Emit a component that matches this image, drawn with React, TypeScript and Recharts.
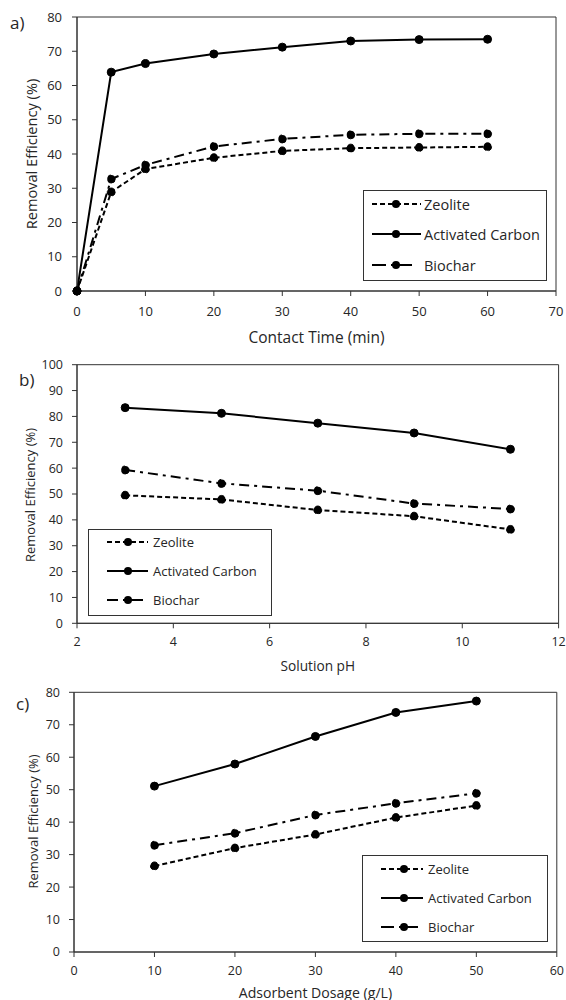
import React from "react";
import { LineChart, Line, XAxis, YAxis, Legend, ReferenceArea } from "recharts";

// a) contact time
const contactTime = [0, 5, 10, 20, 30, 40, 50, 60];
const zeoliteTime = [0, 28.9, 35.6, 38.9, 40.9, 41.7, 41.9, 42.1];
const carbonTime = [0, 63.9, 66.4, 69.2, 71.2, 73.0, 73.4, 73.5];
const biocharTime = [0, 32.7, 36.8, 42.2, 44.4, 45.6, 45.9, 45.9];
const timeTicks = [0, 10, 20, 30, 40, 50, 60, 70];
const timeYTicks = [0, 10, 20, 30, 40, 50, 60, 70, 80];

// b) solution pH
const solutionPh = [3, 5, 7, 9, 11];
const zeolitePh = [49.5, 47.9, 43.8, 41.4, 36.3];
const carbonPh = [83.4, 81.2, 77.4, 73.6, 67.3];
const biocharPh = [59.3, 54.1, 51.3, 46.3, 44.2];
const phTicks = [2, 4, 6, 8, 10, 12];
const phYTicks = [0, 10, 20, 30, 40, 50, 60, 70, 80, 90, 100];

// c) adsorbent dosage
const dosage = [10, 20, 30, 40, 50];
const zeoliteDose = [26.5, 32.0, 36.2, 41.4, 45.1];
const carbonDose = [51.1, 57.9, 66.4, 73.8, 77.3];
const biocharDose = [32.9, 36.6, 42.2, 45.8, 48.9];
const doseTicks = [0, 10, 20, 30, 40, 50, 60];
const doseYTicks = [0, 10, 20, 30, 40, 50, 60, 70, 80];

const seriesNames = ["Zeolite", "Activated Carbon", "Biochar"];
const seriesKeys = ["zeolite", "carbon", "biochar"];
const dashes = ["5 3", "", "10 5 3 5"];

const FONT = "'Open Sans', 'DejaVu Sans', sans-serif";
const INK = "#262626";

const makeRows = (xs: number[], z: number[], c: number[], b: number[]) =>
  xs.map((x, i) => ({ x, zeolite: z[i], carbon: c[i], biochar: b[i] }));

const LegendBox = ({ lg }: any) => (
  <div
    style={{
      position: "relative",
      width: lg.w,
      height: lg.h,
      boxSizing: "border-box",
      border: "1px solid #333",
      background: "#fff",
      fontFamily: FONT,
    }}
  >
    {seriesNames.map((name, i) => {
      const sw = i === 2 ? lg.bioWidth : lg.sampleWidth;
      return (
        <div
          key={name}
          style={{
            position: "absolute",
            left: lg.sampleLeft - 1,
            top: lg.rows[i] - 10 - 1,
            height: 20,
            display: "flex",
            alignItems: "center",
          }}
        >
          <svg width={sw} height={12} style={{ display: "block" }}>
            {i === 2 ? (
              <>
                <line x1={0} x2={lg.dot - 10} y1={6} y2={6} stroke="#000" strokeWidth={2} />
                <line x1={lg.dot - 5} x2={sw} y1={6} y2={6} stroke="#000" strokeWidth={2} />
              </>
            ) : (
              <line
                x1={0}
                x2={sw}
                y1={6}
                y2={6}
                stroke="#000"
                strokeWidth={2}
                strokeDasharray={dashes[i] || undefined}
              />
            )}
            <circle cx={lg.dot} cy={6} r={4} fill="#000" />
          </svg>
          <span
            style={{
              fontSize: lg.font,
              color: INK,
              marginLeft: lg.textLeft - lg.sampleLeft - sw,
              whiteSpace: "nowrap",
            }}
          >
            {name}
          </span>
        </div>
      );
    })}
  </div>
);

const Panel = ({ p }: any) => {
  const h = p.height;
  return (
    <div style={{ position: "absolute", left: 0, top: p.top, width: 566, height: h }}>
      <LineChart
        width={566}
        height={h}
        data={p.rows}
        margin={{ top: p.plotTop, right: 566 - p.plotRight, left: 0, bottom: 0 }}
      >
        <XAxis
          dataKey="x"
          type="number"
          domain={[p.xTicks[0], p.xTicks[p.xTicks.length - 1]]}
          ticks={p.xTicks}
          height={h - p.plotBottom}
          tickSize={5}
          tickMargin={p.xTickMargin}
          stroke="#333"
          tick={{ fill: INK, fontSize: p.tickFont, fontFamily: FONT }}
          label={{
            value: p.xTitle,
            position: "insideBottom",
            offset: p.xTitleOffset,
            fill: INK,
            fontSize: p.xTitleFont,
            fontFamily: FONT,
          }}
        />
        <YAxis
          type="number"
          domain={[p.yTicks[0], p.yTicks[p.yTicks.length - 1]]}
          ticks={p.yTicks}
          width={p.plotLeft}
          tickSize={5}
          tickMargin={p.yTickMargin}
          stroke="#333"
          tick={{ fill: INK, fontSize: p.tickFont, fontFamily: FONT }}
          label={() => (
            <text
              x={p.yTitleX}
              y={p.yTitleY}
              transform={`rotate(-90 ${p.yTitleX} ${p.yTitleY})`}
              textAnchor="middle"
              dominantBaseline="central"
              fill={INK}
              fontSize={p.yTitleFont}
              fontFamily={FONT}
            >
              Removal Efficiency (%)
            </text>
          )}
        />
        <ReferenceArea
          x1={p.xTicks[0]}
          x2={p.xTicks[p.xTicks.length - 1]}
          y1={p.yTicks[0]}
          y2={p.yTicks[p.yTicks.length - 1]}
          fill="none"
          stroke="#333"
          strokeWidth={1}
        />
        {seriesKeys.map((k, i) => (
          <Line
            key={k}
            dataKey={k}
            name={seriesNames[i]}
            type="linear"
            stroke="#000"
            strokeWidth={2}
            strokeDasharray={dashes[i] || undefined}
            dot={{ r: 4, fill: "#000", stroke: "#000", strokeWidth: 1 }}
            isAnimationActive={false}
          />
        ))}
        <Legend
          layout="horizontal"
          verticalAlign="middle"
          align="center"
          wrapperStyle={{ left: p.legend.left, top: p.legend.top, width: p.legend.w, height: p.legend.h }}
          content={() => <LegendBox lg={p.legend} />}
        />
      </LineChart>
      <div
        style={{
          position: "absolute",
          left: p.tag.x,
          top: p.tag.y,
          fontFamily: FONT,
          fontSize: 17,
          color: INK,
        }}
      >
        {p.tag.text}
      </div>
    </div>
  );
};

// panels a and b run a little taller than their slot so the x titles are not clipped;
// the next panel simply overlaps that empty strip
const panels = [
  {
    top: 0,
    height: 360,
    plotLeft: 77,
    plotRight: 556,
    plotTop: 17,
    plotBottom: 291,
    rows: makeRows(contactTime, zeoliteTime, carbonTime, biocharTime),
    xTicks: timeTicks,
    yTicks: timeYTicks,
    xTitle: "Contact Time (min)",
    xTitleOffset: 17,
    xTickMargin: 11,
    yTickMargin: 10,
    yTitleX: 30.5,
    yTitleY: 154,
    tickFont: 13,
    xTitleFont: 15.5,
    yTitleFont: 14.6,
    legend: {
      left: 363, top: 190, w: 184, h: 91, font: 14.5,
      rows: [14, 44, 75], sampleLeft: 9, sampleWidth: 49, bioWidth: 40, dot: 24, textLeft: 61,
    },
    tag: { text: "a)", x: 10, y: 11 },
  },
  {
    top: 345,
    height: 342,
    plotLeft: 77,
    plotRight: 558.6,
    plotTop: 19.7,
    plotBottom: 278.3,
    rows: makeRows(solutionPh, zeolitePh, carbonPh, biocharPh),
    xTicks: phTicks,
    yTicks: phYTicks,
    xTitle: "Solution pH",
    xTitleOffset: 15.8,
    xTickMargin: 9,
    yTickMargin: 9,
    yTitleX: 29.6,
    yTitleY: 150,
    tickFont: 12.5,
    xTitleFont: 13.7,
    yTitleFont: 13,
    legend: {
      left: 88, top: 184, w: 184, h: 87, font: 13,
      rows: [13, 42, 71], sampleLeft: 19, sampleWidth: 41, bioWidth: 36, dot: 21, textLeft: 65,
    },
    tag: { text: "b)", x: 19, y: 22.7 },
  },
  {
    top: 675,
    height: 325,
    plotLeft: 74,
    plotRight: 556.8,
    plotTop: 17.3,
    plotBottom: 277,
    rows: makeRows(dosage, zeoliteDose, carbonDose, biocharDose),
    xTicks: doseTicks,
    yTicks: doseYTicks,
    xTitle: "Adsorbent Dosage (g/L)",
    xTitleOffset: 2.5,
    xTickMargin: 9,
    yTickMargin: 9,
    yTitleX: 32.5,
    yTitleY: 146.5,
    tickFont: 12.5,
    xTitleFont: 14.1,
    yTitleFont: 13,
    legend: {
      left: 362, top: 180, w: 186, h: 87, font: 13,
      rows: [14, 43, 72], sampleLeft: 19, sampleWidth: 42, bioWidth: 37, dot: 23, textLeft: 66,
    },
    tag: { text: "c)", x: 16, y: 16.7 },
  },
];

export default function App() {
  return (
    <div style={{ position: "absolute", left: 0, top: 0, width: 566, height: 1000, background: "#fff" }}>
      {panels.map((p, i) => (
        <Panel key={i} p={p} />
      ))}
    </div>
  );
}
